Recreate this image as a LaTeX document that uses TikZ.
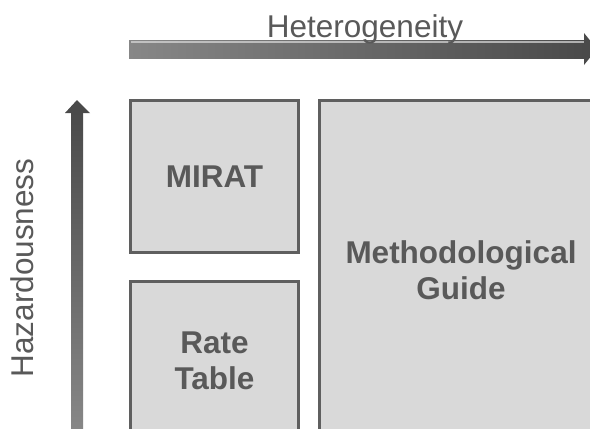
\documentclass[tikz,border=0pt]{standalone}
\usepackage{fontspec}
\setmainfont{Liberation Sans}
\definecolor{boxfill}{HTML}{D9D9D9}
\definecolor{boxline}{HTML}{5F5F5F}
\definecolor{txt}{HTML}{595959}
\definecolor{arrlight}{HTML}{878787}
\definecolor{arrdark}{HTML}{4A4A4A}
\tikzset{
  box/.style={draw=boxline, fill=boxfill, line width=3pt, inner sep=0pt, text=txt,
    font=\bfseries\fontsize{31.5}{36}\selectfont, align=center},
  axislabel/.style={text=txt, font=\fontsize{31.5}{36}\selectfont, inner sep=0pt}
}
\begin{document}
\begin{tikzpicture}[x=1pt,y=-1pt]
\useasboundingbox (0,0) rectangle (590,429);
\clip (0,0) rectangle (590,429);
\fill[white] (0,0) rectangle (590,429);
% horizontal arrow
\shade[left color=arrlight, right color=arrdark] (129,40) rectangle (585,58);
\fill[white!70!arrlight,opacity=0.7] (131,41) rectangle (585,43);
\fill[arrdark] (584,33) -- (597,49) -- (584,65) -- cycle;
\coordinate (hs) at (129,49);
\coordinate (he) at (597,49);
% vertical arrow
\shade[top color=arrdark, bottom color=arrlight] (71,112) rectangle (83,429);
\fill[arrdark] (65,113) -- (77,100) -- (90,113) -- cycle;
\coordinate (vs) at (77,429);
\coordinate (ve) at (77,100);
% labels
\node[axislabel, anchor=base] (het) at (365,37) {Heterogeneity};
\node[axislabel, anchor=base, rotate=90] (haz) at (33,268) {Hazardousness};
% boxes
\node[box, minimum width=168pt, minimum height=152pt] (mirat) at (214.5,176.5) {MIRAT};
\node[box, minimum width=168pt, minimum height=159pt] (rate) at (214.5,361) {Rate\\Table};
\node[box, minimum width=283pt, minimum height=339.5pt] (guide) at (461,270.25) {Methodological\\Guide};
\end{tikzpicture}
\end{document}
